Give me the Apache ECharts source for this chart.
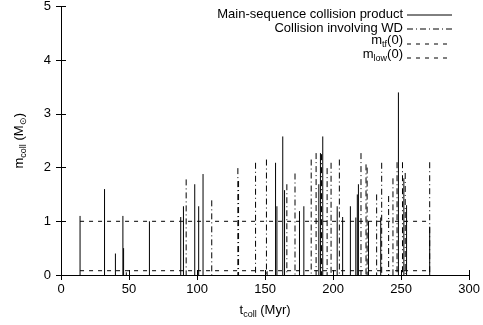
<!DOCTYPE html>
<html>
<head>
<meta charset="utf-8">
<script src="https://cdn.jsdelivr.net/npm/echarts@6/dist/echarts.min.js"></script>
<style>
html, body { margin: 0; padding: 0; background: #fff; }
#collChart { width: 483px; height: 325px; }
</style>
</head>
<body>
<div id="collChart"></div>
<script>
// collision time (Myr) and product mass (Msun)
var msColl = [
  [14, 1.1], [32, 1.6], [40, 0.4], [45.5, 1.1], [46, 0.5], [48, 0.05], [65, 1.0],
  [88, 1.08], [90, 1.28], [98.3, 1.69], [101.2, 1.28], [104.4, 1.88],
  [157.7, 2.09], [158.7, 1.28], [163, 2.58], [164.3, 1.58], [175.3, 1.19], [178.5, 1.28],
  [189.5, 1.69], [190.7, 2.27], [192.4, 2.58], [203, 1.28], [207, 1.08], [212.7, 1.28],
  [216.7, 1.07], [217.8, 1.5], [218.6, 1.69], [226, 1.0], [235, 1.07],
  [248, 3.4], [252, 1.8], [254, 1.3], [271, 0.9]
];
var wdColl = [
  [92, 1.78], [110.8, 1.39], [130, 1.99], [130.5, 1.75], [143, 2.09], [151, 2.15], [151.5, 0.07],
  [166, 1.69], [172, 1.89], [183.9, 2.15], [187.5, 2.27], [191.5, 2.25], [195.6, 1.99],
  [198.5, 2.09], [204.6, 2.15], [220.5, 2.27], [224.2, 2.06], [225, 2.0], [232, 1.5],
  [235.7, 2.09], [240.8, 1.47], [244, 1.8], [247, 2.1], [251, 2.1], [253, 1.9], [271, 2.1]
];
// turn-off mass and lower mass limit, drawn over the collision time range
var mTf = [[14, 1.0], [271, 1.0]];
var mLow = [[14, 0.08], [271, 0.08]];
var xTicks = [0, 300, 50];
var yTicks = [0, 5, 1];

var chart = echarts.init(document.getElementById('collChart'));
var fontName = 'Liberation Sans, Arial, sans-serif';

function impulse(dash) {
  return function (params, api) {
    var top = api.coord([api.value(0), api.value(1)]);
    var base = api.coord([api.value(0), 0]);
    return {
      type: 'line',
      shape: { x1: top[0], y1: top[1], x2: base[0], y2: base[1] },
      style: { stroke: '#000', lineWidth: 1, lineDash: dash }
    };
  };
}

function axisCommon(show) {
  return {
    axisLine: { show: true, lineStyle: { color: '#000', width: 1 } },
    axisTick: { show: true, inside: true, length: 5, lineStyle: { color: '#000' } },
    axisLabel: { show: show, color: '#000', fontSize: 13, fontFamily: fontName },
    splitLine: { show: false }
  };
}

var xb = axisCommon(true);
var xt = axisCommon(false);
var yl = axisCommon(true);
var yr = axisCommon(false);

var options = {
  animation: false,
  grid: { left: 61, right: 13, top: 5, bottom: 50 },
  xAxis: [
    Object.assign(xb, {
      type: 'value', min: xTicks[0], max: xTicks[1], interval: xTicks[2], position: 'bottom',
      axisLabel: Object.assign(xb.axisLabel, { margin: 8 }),
      name: '{n|t}{s|coll}{n| (Myr)}', nameLocation: 'middle', nameGap: 27,
      nameTextStyle: {
        rich: {
          n: { fontSize: 13, color: '#000', fontFamily: fontName },
          s: { fontSize: 9, color: '#000', fontFamily: fontName, padding: [8, 0, 0, 0] }
        }
      }
    }),
    Object.assign(xt, {
      type: 'value', min: xTicks[0], max: xTicks[1], interval: xTicks[2], position: 'top'
    })
  ],
  yAxis: [
    Object.assign(yl, {
      type: 'value', min: yTicks[0], max: yTicks[1], interval: yTicks[2], position: 'left',
      axisLabel: Object.assign(yl.axisLabel, { margin: 10 }),
      name: '{n|m}{s|coll}{n| (M}{s|\u2299}{n|)}', nameLocation: 'middle', nameGap: 33,
      nameTextStyle: {
        rich: {
          n: { fontSize: 13, color: '#000', fontFamily: fontName },
          s: { fontSize: 9, color: '#000', fontFamily: fontName, padding: [8, 0, 0, 0] }
        }
      }
    }),
    Object.assign(yr, {
      type: 'value', min: yTicks[0], max: yTicks[1], interval: yTicks[2], position: 'right'
    })
  ],
  series: [
    {
      type: 'custom', name: 'Main-sequence collision product',
      renderItem: impulse(null), encode: { x: 0, y: 1 }, data: msColl
    },
    {
      type: 'custom', name: 'Collision involving WD',
      renderItem: impulse([6, 3, 1, 3]), encode: { x: 0, y: 1 }, data: wdColl
    },
    {
      type: 'line', name: 'm_tf(0)', data: mTf, symbol: 'none',
      lineStyle: { color: '#000', width: 1, type: [4, 5] }
    },
    {
      type: 'line', name: 'm_low(0)', data: mLow, symbol: 'none',
      lineStyle: { color: '#000', width: 1, type: [4, 5] }
    }
  ],
  graphic: [
    // legend, gnuplot style: right aligned text with line sample after it
    { type: 'text', right: 80, top: 8, style: { text: 'Main-sequence collision product', font: '13px ' + fontName, fill: '#000' } },
    { type: 'line', shape: { x1: 407, y1: 15, x2: 452, y2: 15 }, style: { stroke: '#000', lineWidth: 1 } },
    { type: 'text', right: 80, top: 22, style: { text: 'Collision involving WD', font: '13px ' + fontName, fill: '#000' } },
    { type: 'line', shape: { x1: 407, y1: 29, x2: 452, y2: 29 }, style: { stroke: '#000', lineWidth: 1, lineDash: [6, 3, 1, 3] } },
    {
      type: 'text', right: 80, top: 34,
      style: {
        text: '{n|m}{s|tf}{n|(0)}',
        rich: {
          n: { font: '13px ' + fontName, fill: '#000' },
          s: { font: '9px ' + fontName, fill: '#000', padding: [8, 0, 0, 0] }
        }
      }
    },
    { type: 'line', shape: { x1: 407, y1: 44, x2: 452, y2: 44 }, style: { stroke: '#000', lineWidth: 1, lineDash: [4, 5] } },
    {
      type: 'text', right: 80, top: 48,
      style: {
        text: '{n|m}{s|low}{n|(0)}',
        rich: {
          n: { font: '13px ' + fontName, fill: '#000' },
          s: { font: '9px ' + fontName, fill: '#000', padding: [8, 0, 0, 0] }
        }
      }
    },
    { type: 'line', shape: { x1: 407, y1: 58, x2: 452, y2: 58 }, style: { stroke: '#000', lineWidth: 1, lineDash: [4, 5] } }
  ]
};

chart.setOption(options);
</script>
</body>
</html>
